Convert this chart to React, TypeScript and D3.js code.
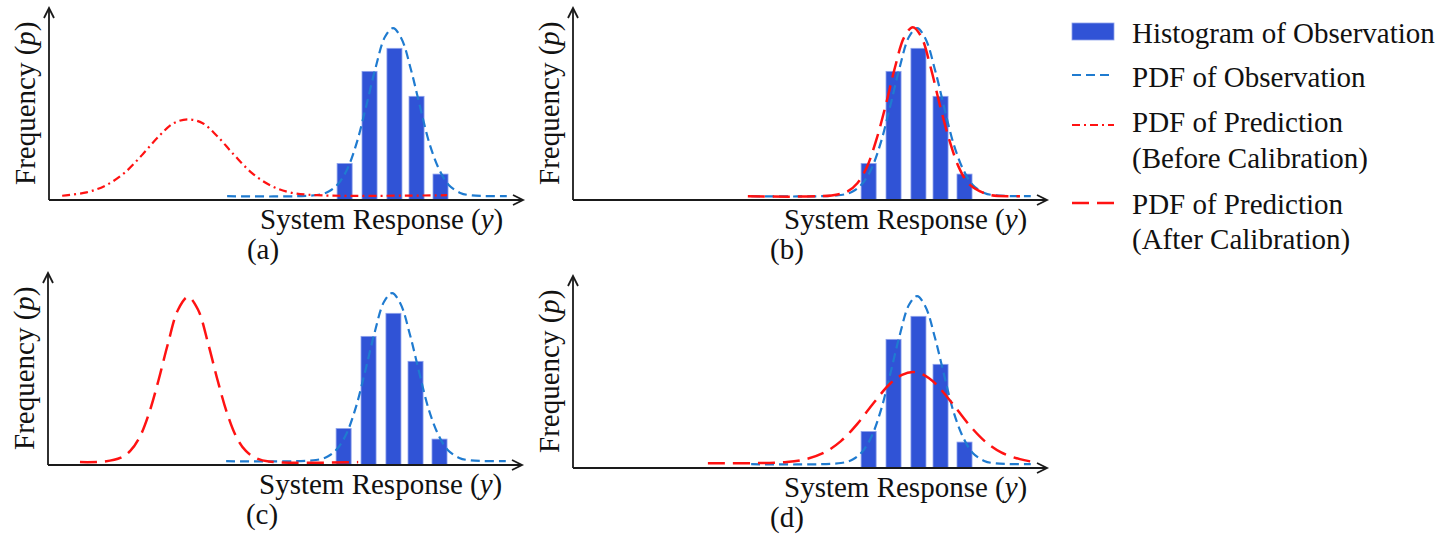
import { useRef, useEffect } from 'react';
import * as d3 from 'd3';

// histogram of observation: bin centre on the response axis, relative frequency
const binCenters = [62.9, 68.2, 73.5, 78.2, 83.3];
const binHeights = [0.19, 0.67, 0.79, 0.54, 0.135];

// PDF of observation (blue)
const obsX = [37.9, 57, 59.5, 61.5, 63.5, 65.5, 67.5, 69.5, 71.5, 73.2, 75, 77, 79, 81, 83, 85, 87.5, 90, 97.4];
const obsY = [0.02, 0.026, 0.044, 0.083, 0.163, 0.3, 0.49, 0.69, 0.85, 0.895, 0.84, 0.68, 0.48, 0.29, 0.16, 0.08, 0.037, 0.024, 0.02];

// PDF of prediction before calibration, panel (a)
const beforeX = [2.8, 8, 12, 16, 20, 23.5, 26.5, 29.6, 32.7, 35.7, 39.2, 43.2, 47.2, 51.2, 57, 84.7];
const beforeY = [0.022, 0.04, 0.075, 0.14, 0.24, 0.335, 0.4, 0.42, 0.4, 0.335, 0.24, 0.14, 0.075, 0.04, 0.025, 0.025];

// PDF of prediction after calibration, panel (b)
const afterBX = [37.2, 55, 58.5, 60.5, 62.5, 64.5, 66.5, 68.5, 70.5, 72.3, 74.1, 76.1, 78.1, 80.1, 82.1, 84.1, 86.5, 89, 95.1];
const afterBY = [0.02, 0.024, 0.046, 0.087, 0.17, 0.31, 0.49, 0.69, 0.85, 0.9, 0.85, 0.69, 0.49, 0.31, 0.17, 0.087, 0.046, 0.025, 0.02];

// panel (c)
const afterCX = [6.8, 12, 15.5, 17.5, 19.5, 21.5, 23.5, 25.5, 27.7, 29.8, 31.9, 34.1, 36.1, 38.1, 40.1, 42.1, 44.1, 47, 66];
const afterCY = [0.015, 0.018, 0.038, 0.073, 0.145, 0.27, 0.44, 0.63, 0.81, 0.875, 0.81, 0.63, 0.44, 0.27, 0.145, 0.073, 0.038, 0.018, 0.015];

// panel (d)
const afterDX = [28.7, 38.3, 45.5, 49.5, 53.5, 57, 60.5, 64, 67.5, 70, 72.3, 74.6, 77.1, 80.6, 84.1, 87.6, 91.1, 95.1, 98.3];
const afterDY = [0.025, 0.025, 0.031, 0.046, 0.081, 0.14, 0.23, 0.34, 0.44, 0.485, 0.5, 0.485, 0.44, 0.34, 0.23, 0.14, 0.081, 0.046, 0.03];

const panelIds = ['(a)', '(b)', '(c)', '(d)'];
const legendLabels = [
  ['Histogram of Observation'],
  ['PDF of Observation'],
  ['PDF of Prediction', '(Before Calibration)'],
  ['PDF of Prediction', '(After Calibration)'],
];

const zip = (xs: number[], ys: number[]) => xs.map((x, i) => [x, ys[i]] as [number, number]);

const BAR = '#3053d6';
const STYLES: Record<string, { color: string; dash: string; w: number }> = {
  obs: { color: '#1f7bd0', dash: '9 5', w: 2.2 },
  before: { color: '#ff1212', dash: '8 4 2 4', w: 2.2 },
  after: { color: '#ff1212', dash: '17 8', w: 2.5 },
};

const App = () => {
  const svgRef = useRef<SVGSVGElement>(null);

  useEffect(() => {
    const svg = d3.select(svgRef.current);
    svg.selectAll('*').remove();
    const font = "'Liberation Serif', 'Times New Roman', serif";

    const axisLen = 474;
    const axisH = 192;
    const xScale = d3.scaleLinear().domain([0, 100]).range([0, 470]);
    const yScale = d3.scaleLinear().domain([0, 1]).range([0, -axisH]);
    const line = d3.line<[number, number]>()
      .x(d => xScale(d[0]))
      .y(d => yScale(d[1]))
      .curve(d3.curveCatmullRom);

    const panels = [
      { ox: 49, oy: 200, preds: [{ data: zip(beforeX, beforeY), style: 'before' }] },
      { ox: 573, oy: 200, preds: [{ data: zip(afterBX, afterBY), style: 'after' }] },
      { ox: 48, oy: 465, preds: [{ data: zip(afterCX, afterCY), style: 'after' }] },
      { ox: 573, oy: 468, preds: [{ data: zip(afterDX, afterDY), style: 'after' }] },
    ];

    panels.forEach((p, pi) => {
      const g = svg.append('g').attr('transform', `translate(${p.ox},${p.oy})`);

      // histogram bars
      const bw = xScale(3.2);
      g.selectAll('rect.bar')
        .data(binCenters)
        .enter()
        .append('rect')
          .attr('x', (d) => xScale(d) - bw / 2)
          .attr('y', (d, i) => yScale(binHeights[i]))
          .attr('width', bw)
          .attr('height', (d, i) => -yScale(binHeights[i]))
          .attr('fill', BAR)
          .attr('stroke', '#8ea2ec')
          .attr('stroke-width', 0.8);

      // observation pdf
      g.append('path')
        .attr('d', line(zip(obsX, obsY)))
        .attr('fill', 'none')
        .attr('stroke', STYLES.obs.color)
        .attr('stroke-width', STYLES.obs.w)
        .attr('stroke-dasharray', STYLES.obs.dash);

      // prediction pdf
      p.preds.forEach(pr => {
        const s = STYLES[pr.style];
        g.append('path')
          .attr('d', line(pr.data))
          .attr('fill', 'none')
          .attr('stroke', s.color)
          .attr('stroke-width', s.w)
          .attr('stroke-dasharray', s.dash);
      });

      // axes with open arrowheads
      const ax = g.append('g').attr('stroke', '#1a1a1a').attr('stroke-width', 1.8).attr('fill', 'none');
      ax.append('line').attr('x1', 0).attr('y1', 0).attr('x2', axisLen).attr('y2', 0);
      ax.append('line').attr('x1', 0).attr('y1', 0).attr('x2', 0).attr('y2', -axisH);
      ax.append('polyline').attr('points', `${axisLen - 10},-5 ${axisLen},0 ${axisLen - 10},5`);
      ax.append('polyline').attr('points', `-5,${-axisH + 10} 0,${-axisH} 5,${-axisH + 10}`);

      // axis labels
      const xl = g.append('text')
        .attr('x', 211).attr('y', 29)
        .attr('font-family', font).attr('font-size', 29).attr('fill', '#111');
      xl.append('tspan').text('System Response (');
      xl.append('tspan').attr('font-style', 'italic').text('y');
      xl.append('tspan').text(')');

      const yl = g.append('text')
        .attr('transform', `translate(-14,-15) rotate(-90)`)
        .attr('font-family', font).attr('font-size', 29).attr('fill', '#111');
      yl.append('tspan').text('Frequency (');
      yl.append('tspan').attr('font-style', 'italic').text('p');
      yl.append('tspan').text(')');

      g.append('text')
        .attr('x', 214).attr('y', 59)
        .attr('text-anchor', 'middle')
        .attr('font-family', font).attr('font-size', 29).attr('fill', '#111')
        .text(panelIds[pi]);
    });

    // legend
    const lg = svg.append('g');
    lg.append('rect').attr('x', 1072).attr('y', 23).attr('width', 42).attr('height', 17)
      .attr('fill', BAR).attr('stroke', '#8ea2ec').attr('stroke-width', 0.8);
    const legendLines = [
      { y: 75, s: STYLES.obs },
      { y: 125, s: STYLES.before },
      { y: 203, s: STYLES.after },
    ];
    legendLines.forEach(l => {
      lg.append('line').attr('x1', 1072).attr('x2', 1114).attr('y1', l.y).attr('y2', l.y)
        .attr('stroke', l.s.color).attr('stroke-width', l.s.w).attr('stroke-dasharray', l.s.dash);
    });
    const baselines = [[43], [87], [132, 168], [214, 249]];
    legendLabels.forEach((lines, i) => {
      lines.forEach((t, j) => {
        lg.append('text')
          .attr('x', 1132).attr('y', baselines[i][j])
          .attr('font-family', font).attr('font-size', 29).attr('fill', '#111')
          .text(t);
      });
    });
  }, []);

  return (
    <svg ref={svgRef} width={1450} height={540}
      style={{ position: 'absolute', left: 0, top: 0, background: '#fff' }}></svg>
  );
};

export default App;
